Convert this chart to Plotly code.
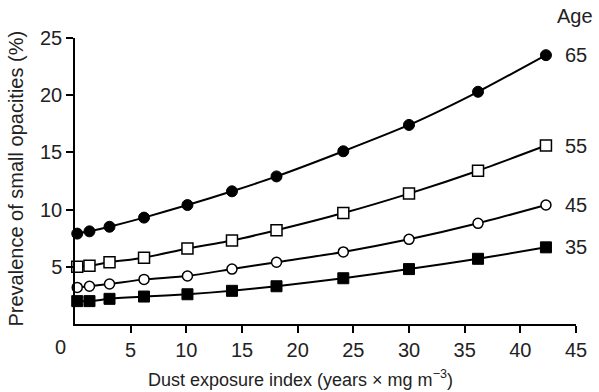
import plotly.graph_objects as go

# Dust exposure index (years x mg m^-3) at which prevalence was estimated
exposure = [0.2, 1.3, 3.1, 6.2, 10.1, 14.1, 18.1, 24.1, 30.0, 36.2, 42.3]

# Estimated prevalence of small opacities (%) by age group
age_labels = ["65", "55", "45", "35"]
prev_65 = [7.9, 8.1, 8.5, 9.3, 10.4, 11.6, 12.9, 15.1, 17.4, 20.3, 23.5]
prev_55 = [5.0, 5.1, 5.4, 5.8, 6.6, 7.3, 8.2, 9.7, 11.4, 13.4, 15.6]
prev_45 = [3.2, 3.3, 3.5, 3.9, 4.2, 4.8, 5.4, 6.3, 7.4, 8.8, 10.4]
prev_35 = [2.0, 2.0, 2.2, 2.4, 2.6, 2.9, 3.3, 4.0, 4.8, 5.7, 6.7]

x_ticks = [5, 10, 15, 20, 25, 30, 35, 40, 45]
y_ticks = [5, 10, 15, 20, 25]

FONT = "Liberation Sans, Arial, Helvetica, sans-serif"
FS = 20
TXT = "#222"

series = [
    (prev_65, dict(symbol="circle", size=11, color="black", line=dict(color="black", width=1))),
    (prev_55, dict(symbol="square", size=11, color="white", line=dict(color="black", width=1.5))),
    (prev_45, dict(symbol="circle", size=10, color="white", line=dict(color="black", width=1.5))),
    (prev_35, dict(symbol="square", size=11, color="black", line=dict(color="black", width=1))),
]

fig = go.Figure()
for (vals, marker), label in zip(series, age_labels):
    fig.add_trace(go.Scatter(
        x=exposure, y=vals, mode="lines+markers", name=label,
        line=dict(color="black", width=2, shape="spline", smoothing=0.6),
        marker=marker, cliponaxis=False, showlegend=False,
    ))
    fig.add_annotation(x=43.85, y=vals[-1], text=label, showarrow=False,
                       xanchor="left", yanchor="middle",
                       font=dict(family=FONT, size=FS, color=TXT))

fig.add_annotation(x=1.0, xref="paper", y=1.078, yref="paper", text="Age",
                   showarrow=False, xanchor="right", yanchor="middle",
                   xshift=19,
                   font=dict(family=FONT, size=FS, color=TXT))

# Shared origin label at the corner
fig.add_annotation(x=0, y=0, text="0", showarrow=False, xanchor="center",
                   yanchor="top", xshift=-15, yshift=-10,
                   font=dict(family=FONT, size=FS, color=TXT))

# Axis titles
fig.add_annotation(x=0.4505, xref="paper", y=-0.19, yref="paper",
                   text="Dust exposure index (years \u00d7 mg m<sup>\u22123</sup>)",
                   showarrow=False, xanchor="center", yanchor="middle",
                   font=dict(family=FONT, size=18, color=TXT))
fig.add_annotation(x=-0.117, xref="paper", y=0.51, yref="paper",
                   text="Prevalence of small opacities (%)", textangle=-90,
                   showarrow=False, xanchor="center", yanchor="middle",
                   font=dict(family=FONT, size=FS, color=TXT))

fig.update_xaxes(range=[0, 45], tickvals=x_ticks, ticks="outside", ticklen=7,
                 tickwidth=1.5, tickcolor="black", showline=True, linecolor="black",
                 linewidth=1.5, showgrid=False, zeroline=False,
                 tickfont=dict(family=FONT, size=FS, color=TXT))
fig.update_yaxes(range=[0, 25], tickvals=y_ticks, ticks="outside", ticklen=7,
                 tickwidth=1.5, tickcolor="black", showline=True, linecolor="black",
                 linewidth=1.5, showgrid=False, zeroline=False,
                 tickfont=dict(family=FONT, size=FS, color=TXT))

fig.update_layout(
    width=599, height=392,
    margin=dict(l=75, r=17, t=38, b=68),
    plot_bgcolor="white", paper_bgcolor="white",
)

fig.write_html("out.html")
